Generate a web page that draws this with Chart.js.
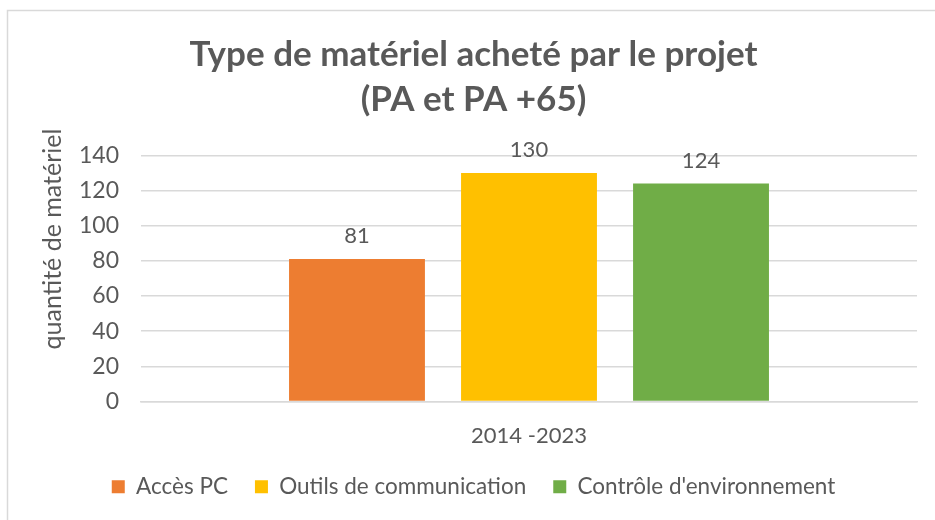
<!DOCTYPE html>
<html>
<head>
<meta charset="utf-8">
<script src="https://cdn.jsdelivr.net/npm/chart.js@4.4.1/dist/chart.umd.min.js"></script>
<style>
  html, body { margin: 0; padding: 0; background: #fff; }
  #wrap { width: 935px; height: 520px; }
</style>
</head>
<body>
<div id="wrap"><canvas id="materiel-chart" width="935" height="520"></canvas></div>
<script>
/* Data */
let periods = ['2014 -2023']
let seriesNames = ['Accès PC', 'Outils de communication', "Contrôle d'environnement"]
let seriesValues = [[81], [130], [124]]
let seriesColors = ['#ED7D31', '#FFC000', '#70AD47']
let yTicks = [0, 20, 40, 60, 80, 100, 120, 140]

let textGray = '#595959'
let fontFamily = 'Lato, "Open Sans", sans-serif'

/* Frame around the chart, like the spreadsheet export */
let framePlugin = {
    id: 'frame',
    beforeDraw(chart) {
        let c = chart.ctx
        c.save()
        c.fillStyle = '#fff'
        c.fillRect(0, 0, chart.width, chart.height)
        c.strokeStyle = '#D9D9D9'
        c.lineWidth = 1.5
        c.strokeRect(7.5, 10.5, chart.width + 20, chart.height + 20)
        c.restore()
    }
}

/* Value labels above each bar */
let valueLabelPlugin = {
    id: 'valueLabels',
    afterDatasetsDraw(chart) {
        let c = chart.ctx
        c.save()
        c.fillStyle = textGray
        c.font = '22px ' + fontFamily
        c.textAlign = 'center'
        c.textBaseline = 'bottom'
        chart.data.datasets.forEach(function(ds, i) {
            chart.getDatasetMeta(i).data.forEach(function(bar, j) {
                c.fillText(ds.data[j], bar.x, bar.y - 12)
            })
        })
        c.restore()
    }
}

/* Rotated y axis title */
let yTitlePlugin = {
    id: 'yTitle',
    afterDraw(chart) {
        let c = chart.ctx
        c.save()
        c.translate(61, 239)
        c.rotate(-Math.PI / 2)
        c.fillStyle = textGray
        c.font = '25px ' + fontFamily
        c.textAlign = 'center'
        c.textBaseline = 'alphabetic'
        c.fillText('quantité de matériel', 0, 0)
        c.restore()
    }
}

let datasets = seriesNames.map(function(name, i) {
    return {
        label: name,
        data: seriesValues[i],
        backgroundColor: seriesColors[i],
        borderWidth: 0,
        categoryPercentage: 0.665,
        barPercentage: 0.79
    }
})

let ctx = document.querySelector('#materiel-chart').getContext('2d')

let chart = new Chart(ctx, {
    type: 'bar',
    data: { labels: periods, datasets: datasets },
    options: {
        responsive: false,
        animation: false,
        layout: { padding: { left: 30, right: 18, top: 32, bottom: 12 } },
        plugins: {
            title: {
                display: true,
                text: ['Type de matériel acheté par le projet', '(PA et PA +65)'],
                color: textGray,
                font: { family: fontFamily, size: 35, weight: 'bold', lineHeight: 1.29 },
                padding: { top: 0, bottom: 33 }
            },
            legend: {
                position: 'bottom',
                labels: {
                    color: textGray,
                    font: { family: fontFamily, size: 22.5 },
                    boxWidth: 13,
                    boxHeight: 13,
                    padding: 27
                }
            },
            tooltip: { enabled: false }
        },
        scales: {
            x: {
                afterFit(scale) { scale.height = 47 },
                grid: { display: false, drawTicks: false },
                border: { color: '#D9D9D9', width: 1.5 },
                ticks: { color: textGray, font: { family: fontFamily, size: 22, lineHeight: 1 }, padding: 23 }
            },
            y: {
                min: 0,
                max: 140,
                afterFit(scale) { scale.width = 111 },
                afterBuildTicks(scale) { scale.ticks = yTicks.map(function(v) { return { value: v } }) },
                grid: { color: '#D9D9D9', lineWidth: 1.5, drawTicks: false },
                border: { display: false },
                ticks: { color: textGray, font: { family: fontFamily, size: 23 }, padding: 22 }
            }
        }
    },
    plugins: [framePlugin, valueLabelPlugin, yTitlePlugin]
})
</script>
</body>
</html>
